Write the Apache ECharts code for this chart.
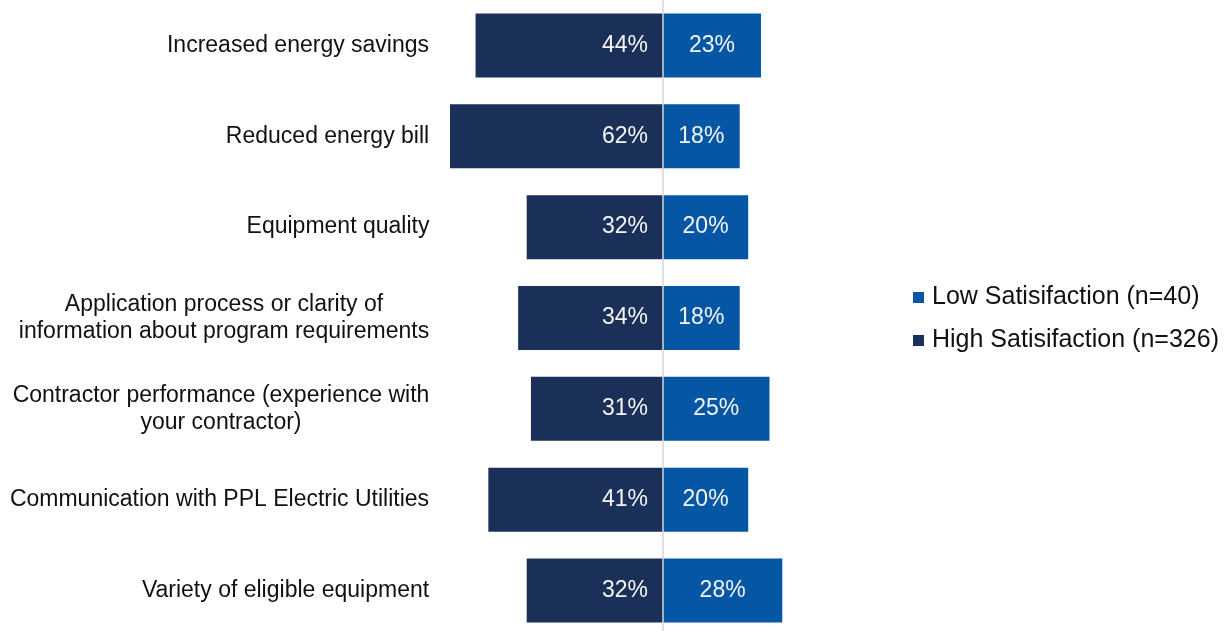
<!DOCTYPE html>
<html>
<head>
<meta charset="utf-8">
<script src="https://cdn.jsdelivr.net/npm/echarts@6/dist/echarts.min.js"></script>
<style>
html,body{margin:0;padding:0;background:#fff;overflow:hidden;}
#chart{width:1228px;height:640px;}
</style>
</head>
<body>
<div id="chart"></div>
<script>
var categories = [
  "Increased energy savings",
  "Reduced energy bill",
  "Equipment quality",
  "Application process or clarity of\ninformation about program requirements",
  "Contractor performance (experience with\nyour contractor)",
  "Communication with PPL Electric Utilities",
  "Variety of eligible equipment"
];
var highValues = [44, 62, 32, 34, 31, 41, 32];
var lowValues = [23, 18, 20, 18, 25, 20, 28];
var seriesNames = ["Low Satisifaction (n=40)", "High Satisifaction (n=326)"];

var FONT = '"Liberation Sans", Arial, sans-serif';
var FS = 23;

var ctx = document.createElement('canvas').getContext('2d');
ctx.font = FS + 'px ' + FONT;
var rich = {};
categories.forEach(function (c, i) {
  var lines = c.split('\n');
  var w = 0;
  lines.forEach(function (l) { w = Math.max(w, ctx.measureText(l).width); });
  rich['r' + i] = { width: Math.ceil(w) + 1, align: 'center', fontSize: FS, fontFamily: FONT, color: '#111', lineHeight: 27 };
});

var chart = echarts.init(document.getElementById('chart'));
chart.setOption({
  animation: false,
  backgroundColor: '#fff',
  textStyle: { fontFamily: FONT },
  grid: { left: 450, width: 426, top: 0, height: 636 },
  legend: {
    data: seriesNames,
    orient: 'vertical',
    left: 908,
    top: 280,
    itemWidth: 11,
    itemHeight: 11,
    itemGap: 18,
    icon: 'rect',
    textStyle: { fontSize: 25, color: '#111', fontFamily: FONT, padding: [0, 0, 0, 3] }
  },
  xAxis: {
    type: 'value',
    min: -50,
    max: 50,
    show: false
  },
  yAxis: {
    type: 'category',
    inverse: true,
    data: categories,
    axisLine: { show: false },
    axisTick: { show: false },
    splitLine: { show: false },
    axisLabel: {
      margin: 20,
      formatter: function (v, idx) {
        var i = categories.indexOf(v);
        return v.split('\n').map(function (l) { return '{r' + i + '|' + l + '}'; }).join('\n');
      },
      rich: rich
    }
  },
  series: [
    {
      name: seriesNames[0],
      type: 'bar',
      stack: 's',
      barWidth: 64,
      data: lowValues,
      itemStyle: { color: '#0656a6' },
      label: {
        show: true,
        position: 'inside',
        color: '#f4f4f4',
        fontSize: FS,
        fontFamily: FONT,
        formatter: function (p) { return lowValues[p.dataIndex] + '%'; }
      },
      markLine: {
        silent: true,
        symbol: 'none',
        label: { show: false },
        lineStyle: { color: '#d6d6d6', width: 1.5, type: 'solid' },
        data: [{ xAxis: 0 }],
        z: 10
      }
    },
    {
      name: seriesNames[1],
      type: 'bar',
      stack: 's',
      barWidth: 64,
      clip: true,
      data: highValues.map(function (v) { return -v; }),
      itemStyle: { color: '#1b3058' },
      label: {
        show: true,
        position: 'insideRight',
        distance: 15,
        color: '#f4f4f4',
        fontSize: FS,
        fontFamily: FONT,
        formatter: function (p) { return highValues[p.dataIndex] + '%'; }
      }
    }
  ]
});
</script>
</body>
</html>
